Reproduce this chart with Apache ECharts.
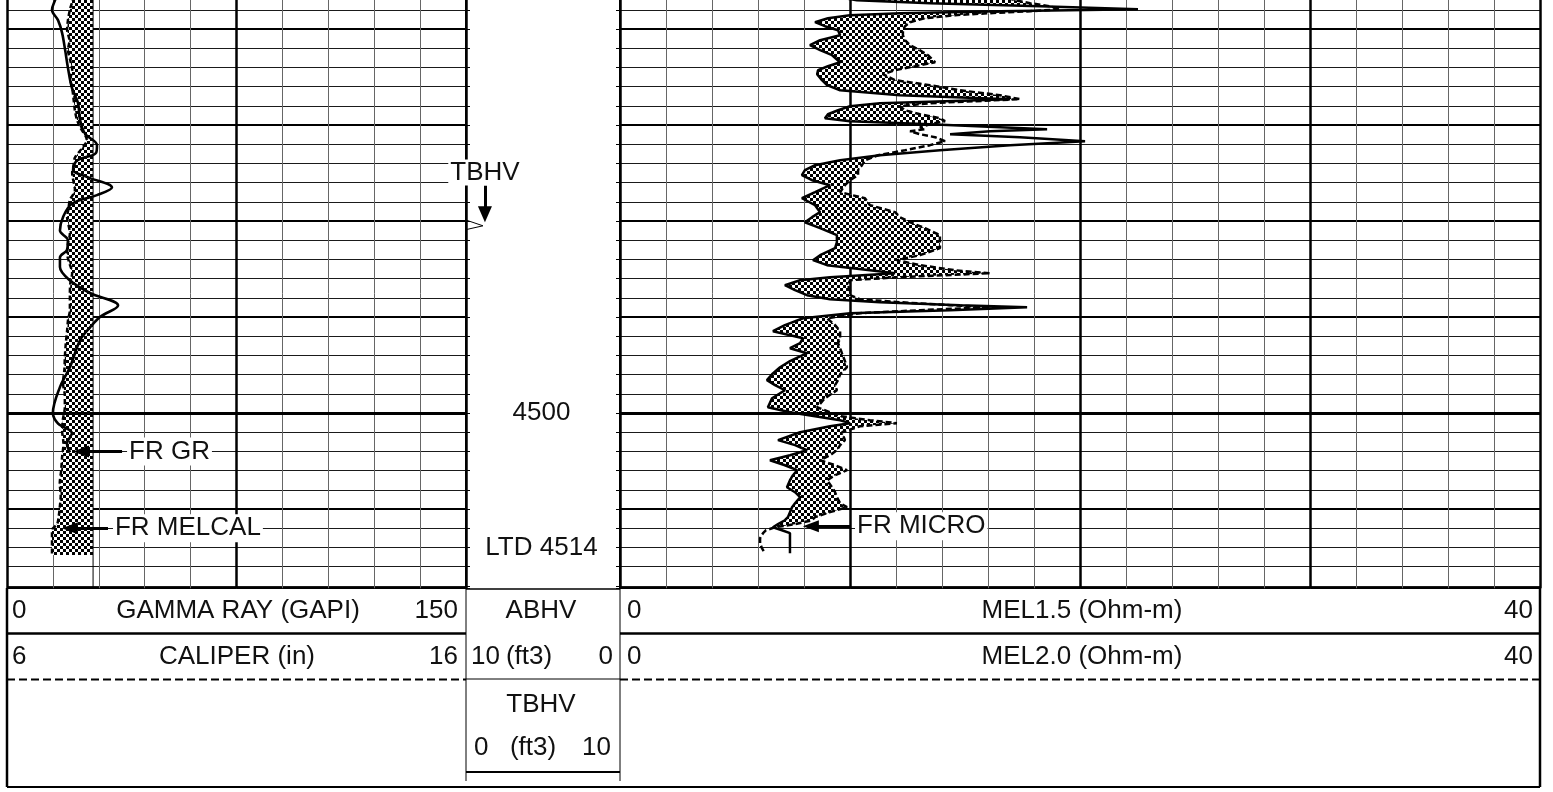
<!DOCTYPE html>
<html><head><meta charset="utf-8">
<script src="https://cdn.jsdelivr.net/npm/echarts@6/dist/echarts.min.js"></script>
<style>html,body{margin:0;padding:0;background:#fff;overflow:hidden}#c{width:1553px;height:792px}</style>
</head><body><div id="c"></div>
<script>
// ---------------- DATA ----------------
// Gamma ray (GAPI) vs depth (ft)
const grDepth = [4456.5,4457.0,4458.0,4459.1,4460.4,4462.2,4464.0,4466.1,4467.7,4469.5,
  4470.9,4472.1,4472.9,4473.7,4474.7,4475.4,4476.5,4477.3,4478.2,4479.6,
  4481.0,4482.0,4483.0,4483.8,4484.8,4486.2,4487.5,4488.8,4490.0,4491.1,
  4492.4,4495.2,4497.3,4500.0,4501.1,4502.1,4503.2,4504.1];
const grValue = [16.5,15.7,14.7,16.7,18.0,19.0,19.9,21.2,23.2,23.9,
  25.5,29.4,29.1,22.9,21.6,26.1,34.3,29.4,21.2,18.3,
  17.3,19.9,19.6,17.3,17.3,20.6,27.1,36.3,30.4,27.1,
  23.9,20.6,17.3,15.0,16.7,21.2,19.6,20.6];
// Caliper (in) vs depth
const calDepth = [4456.5,4457.0,4458.0,4459.0,4460.1,4461.2,4462.2,4463.3,4464.3,4465.2,
  4466.1,4467.3,4468.5,4469.4,4470.2,4471.6,4472.5,4473.4,4474.2,4475.0,
  4476.8,4477.8,4478.7,4479.6,4481.3,4482.3,4483.4,4484.4,4485.4,4486.5,
  4487.5,4489.3,4490.3,4491.4,4492.8,4494.2,4495.5,4496.9,4498.2,4499.4,
  4500.6,4501.8,4503.2,4504.6,4506.0,4507.3,4508.6,4509.8,4511.0,4511.6,
  4512.2,4514.8];
const calValue = [7.40,7.42,7.37,7.33,7.31,7.36,7.33,7.38,7.42,7.38,
  7.42,7.45,7.48,7.52,7.59,7.74,7.62,7.48,7.45,7.42,
  7.48,7.37,7.34,7.31,7.37,7.33,7.31,7.36,7.42,7.38,
  7.37,7.37,7.33,7.31,7.28,7.26,7.25,7.22,7.26,7.26,
  7.22,7.20,7.23,7.20,7.18,7.15,7.17,7.15,7.12,7.09,
  6.98,6.98];
// Bit size (in)
const bitDepth = [4456, 4518.25];
const bitValue = [7.875, 7.875];
// Micro-log (Ohm-m) vs depth
const melDepth = [4456.50,4457.00,4457.31,4457.63,4457.94,4458.15,4458.35,4458.56,4458.88,4459.29,
  4459.71,4460.13,4460.65,4461.17,4461.69,4462.21,4462.73,4463.46,4463.88,4464.29,
  4464.71,4465.33,4465.85,4466.38,4466.90,4467.31,4467.73,4468.04,4468.46,4468.88,
  4469.29,4469.60,4469.92,4470.23,4470.44,4470.65,4470.96,4471.27,4471.69,4472.10,
  4472.63,4473.15,4473.67,4474.19,4474.71,4475.23,4475.75,4476.27,4477.00,4477.63,
  4478.35,4479.08,4479.60,4480.13,4480.75,4481.48,4482.21,4482.83,4483.56,4484.08,
  4484.60,4485.13,4485.44,4485.85,4486.17,4486.69,4487.21,4487.73,4488.15,4488.46,
  4488.77,4488.98,4489.29,4489.60,4490.13,4490.85,4491.48,4492.21,4492.73,4493.25,
  4493.77,4494.60,4495.23,4495.96,4496.58,4497.10,4497.63,4498.46,4499.40,4499.92,
  4500.33,4500.75,4501.06,4501.38,4502.00,4502.83,4503.35,4503.88,4504.40,4504.92,
  4505.44,4505.96,4506.48,4507.00,4507.73,4508.25,4508.77,4509.40,4509.81,4510.33,
  4510.85,4511.17,4511.58,4511.90,4512.21,4512.52,4513.04,4513.56,4514.08,4514.60];
const mel15 = [9.00,10.30,13.48,18.26,22.52,16.52,12.17,10.00,9.04,8.48,
  8.91,9.48,9.57,8.70,8.26,8.70,9.22,9.57,9.04,8.61,
  8.57,8.78,9.00,9.57,12.17,16.96,11.30,10.00,9.48,9.04,
  8.91,10.00,13.48,16.52,18.57,16.09,14.35,17.39,20.22,16.96,
  13.91,11.30,9.57,8.48,8.04,7.91,8.35,9.13,8.48,7.91,
  8.48,8.70,8.35,8.04,8.70,9.43,9.43,9.35,8.70,8.39,
  9.00,10.87,11.96,9.13,7.83,7.17,7.61,8.13,9.13,11.30,
  14.78,17.70,14.35,10.00,7.96,7.17,6.65,7.96,7.83,7.39,
  8.13,7.39,6.96,6.61,6.39,6.74,7.17,6.61,6.43,7.39,
  8.48,9.57,10.00,9.13,7.83,6.87,7.61,8.13,7.39,6.52,
  7.17,7.70,7.52,7.39,7.26,7.61,7.83,7.61,7.48,7.39,
  7.30,7.17,6.87,6.65,7.04,7.39,7.39,7.39,7.39,7.39];
const mel20 = [16.50,17.17,17.83,18.70,19.13,17.83,16.09,14.57,13.26,12.61,
  12.39,12.30,12.30,12.39,12.61,13.04,13.39,13.70,12.83,11.96,
  11.43,11.96,13.48,14.78,16.52,17.39,13.48,12.17,12.39,13.04,
  13.91,14.13,13.48,13.04,13.26,12.61,13.04,13.70,14.13,13.48,
  12.39,11.22,10.65,10.52,10.35,10.35,10.00,9.78,9.57,10.65,
  10.87,11.96,12.17,12.61,13.26,13.91,13.91,13.91,13.04,12.04,
  13.04,14.57,16.09,12.17,10.00,9.91,10.00,10.00,10.43,12.17,
  14.35,16.09,13.04,10.43,9.00,9.35,9.57,9.57,9.48,9.57,
  9.65,9.78,9.87,9.57,9.48,9.35,9.43,8.91,8.57,9.13,
  9.57,10.87,12.04,10.43,9.65,9.78,9.57,9.43,9.13,8.70,
  9.35,9.87,9.35,9.00,9.22,9.35,9.43,9.57,9.87,9.13,
  8.48,8.35,7.61,6.74,6.35,6.22,6.09,6.09,6.17,6.30];
// TBHV (ft3)
const tbhvDepth = [4479.9, 4480.5, 4480.9];
const tbhvValue = [0, 1.1, 0];
// Depth labels
const depthLabelText = ['4500', 'LTD 4514'];
const depthLabelDepth = [4500, 4514];
// Header scale texts
const grScale = ['0', 'GAMMA RAY (GAPI)', '150'];
const calScale = ['6', 'CALIPER (in)', '16'];
const mel15Scale = ['0', 'MEL1.5 (Ohm-m)', '40'];
const mel20Scale = ['0', 'MEL2.0 (Ohm-m)', '40'];
const abhvScale = ['ABHV', '10', '(ft3)', '0'];
const tbhvScale = ['TBHV', '0', '(ft3)', '10'];

// ---------------- LAYOUT ----------------
const FONT = 'Liberation Sans, Arial, Helvetica, sans-serif';
const D_MIN = 4456, D_MAX = 4518.25, D_MAJ_MIN = 4450, PXFT = 9.6, Y4500 = 413;
const topMinor = Y4500 - (4500 - D_MIN) * PXFT;
const hMinor = (D_MAX - D_MIN) * PXFT;
const topMajor = Y4500 - (4500 - D_MAJ_MIN) * PXFT;
const hMajor = (D_MAX - D_MAJ_MIN) * PXFT;

const pairs = (xs, ys) => xs.map((x, i) => [x, ys[i]]);

const pat = document.createElement('canvas');
pat.width = 6; pat.height = 6;
const pc = pat.getContext('2d');
pc.fillStyle = '#fff'; pc.fillRect(0, 0, 6, 6);
pc.fillStyle = '#000'; pc.fillRect(0, 0, 3, 3); pc.fillRect(3, 3, 3, 3);
const checker = { image: pat, repeat: 'repeat' };

function gridAt(left, top, width, height) {
  return { left, top, width, height, containLabel: false, outerBoundsMode: 'none' };
}
function xAx(grid, min, max, interval, split, pos) {
  return { type: 'value', gridIndex: grid, min, max, interval, position: pos || 'bottom',
    axisLine: { show: false }, axisTick: { show: false }, axisLabel: { show: false },
    splitLine: split ? { show: true, lineStyle: split } : { show: false } };
}
function yAx(grid, min, interval, split, extra) {
  return Object.assign({ type: 'value', gridIndex: grid, min, max: D_MAX, interval, inverse: true,
    axisLine: { show: false, onZero: false }, axisTick: { show: false }, axisLabel: { show: false },
    splitLine: split ? { show: true, lineStyle: split } : { show: false } }, extra || {});
}
const edgeAxis = pos => ({ position: pos,
  axisLine: { show: true, onZero: false, lineStyle: { color: '#000', width: 2 } },
  axisTick: { show: true, inside: true, length: 4, lineStyle: { color: '#000', width: 1 } } });

const labelStyle = { show: true, position: 'end', distance: 5, fontSize: 26, color: '#111',
  fontFamily: FONT, backgroundColor: '#fff', padding: [1, 2] };
const arrowLine = { color: '#000', width: 3, type: 'solid' };

// header graphics
const hdr = [];
function txt(x, y, text, align) {
  hdr.push({ type: 'text', x, y, silent: true, z: 10,
    style: { text, fill: '#111', fontSize: 26, fontFamily: FONT, align, verticalAlign: 'middle' } });
}
function ln(x1, y1, x2, y2, w, dash) {
  hdr.push({ type: 'line', silent: true, z: 10, shape: { x1, y1, x2, y2 },
    style: { stroke: '#000', lineWidth: w, lineDash: dash || null } });
}
txt(12, 611, grScale[0], 'left'); txt(238, 611, grScale[1], 'center'); txt(458, 611, grScale[2], 'right');
txt(541, 611, abhvScale[0], 'center');
txt(627, 611, mel15Scale[0], 'left'); txt(1082, 611, mel15Scale[1], 'center'); txt(1533, 611, mel15Scale[2], 'right');
txt(12, 657, calScale[0], 'left'); txt(237, 657, calScale[1], 'center'); txt(458, 657, calScale[2], 'right');
txt(471, 657, abhvScale[1], 'left'); txt(529, 657, abhvScale[2], 'center'); txt(613, 657, abhvScale[3], 'right');
txt(627, 657, mel20Scale[0], 'left'); txt(1082, 657, mel20Scale[1], 'center'); txt(1533, 657, mel20Scale[2], 'right');
txt(541, 705, tbhvScale[0], 'center');
txt(474, 748, tbhvScale[1], 'left'); txt(533, 748, tbhvScale[2], 'center'); txt(611, 748, tbhvScale[3], 'right');
ln(466, 589, 620, 589, 1.5);
ln(7, 633.5, 466, 633.5, 2.5); ln(620, 633.5, 1540, 633.5, 2.5);
ln(7, 679.5, 466, 679.5, 2, [8, 4]); ln(620, 679.5, 1540, 679.5, 2, [8, 4]);
ln(466, 679, 620, 679, 1);
ln(466, 772, 620, 772, 2);
ln(466, 588, 466, 781, 1); ln(620, 588, 620, 781, 1);
ln(7, 588, 7, 787, 2.5); ln(7, 787, 1540, 787, 2); ln(1540, 588, 1540, 787, 2.5);

const option = {
  animation: false,
  backgroundColor: '#fff',
  grid: [
    gridAt(7, topMinor, 459, hMinor),
    gridAt(7, topMajor, 459, hMajor),
    gridAt(466, topMinor, 154, hMinor),
    gridAt(620, topMinor, 920, hMinor),
    gridAt(620, topMajor, 920, hMajor)
  ],
  xAxis: [
    xAx(0, 0, 150, 15, { color: '#666', width: 1 }),
    xAx(0, 6, 16, 1, null, 'top'),
    xAx(1, 0, 150, 75, { color: '#000', width: 2.5 }),
    xAx(2, 0, 10, 1, null),
    xAx(3, 0, 40, 2, { color: '#666', width: 1 }),
    xAx(4, 0, 40, 10, { color: '#000', width: 2.5 })
  ],
  yAxis: [
    yAx(0, D_MIN, 2, { color: '#1a1a1a', width: 1 }),
    yAx(1, D_MAJ_MIN, 10, { color: '#000', width: 2 }),
    yAx(2, D_MIN, 2, null, edgeAxis('left')),
    yAx(2, D_MIN, 2, null, edgeAxis('right')),
    yAx(3, D_MIN, 2, { color: '#1a1a1a', width: 1 }),
    yAx(4, D_MAJ_MIN, 10, { color: '#000', width: 2 })
  ],
  graphic: { elements: hdr },
  series: [
    { type: 'custom', name: 'Caliper fill', xAxisIndex: 1, yAxisIndex: 0, z: 2, silent: true,
      data: [[7, 4480]],
      renderItem: (params, api) => {
        const pts = calDepth.map((d, i) => api.coord([calValue[i], d]));
        pts.push(api.coord([bitValue[1], calDepth[calDepth.length - 1]]));
        pts.push(api.coord([bitValue[0], calDepth[0]]));
        return { type: 'polygon', shape: { points: pts }, style: { fill: checker, stroke: null } };
      } },
    { type: 'line', name: 'Bit size', xAxisIndex: 1, yAxisIndex: 0, z: 3, silent: true,
      data: pairs(bitValue, bitDepth), symbol: 'none', lineStyle: { color: '#000', width: 1 } },
    { type: 'line', name: 'CALIPER', xAxisIndex: 1, yAxisIndex: 0, z: 4, silent: true,
      data: pairs(calValue, calDepth), symbol: 'none', smooth: 0.3,
      lineStyle: { color: '#000', width: 2.5, type: [5, 3] },
      markLine: { silent: true, symbol: 'none', label: { show: false },
        data: [[
          { coord: [7.37, 4512.0], symbol: 'triangle', symbolSize: [12, 16], lineStyle: arrowLine,
            label: Object.assign({}, labelStyle, { formatter: 'FR MELCAL' }) },
          { coord: [8.20, 4512.0], symbol: 'none' }
        ]] } },
    { type: 'line', name: 'GAMMA RAY', xAxisIndex: 0, yAxisIndex: 0, z: 4, silent: true,
      data: pairs(grValue, grDepth), symbol: 'none', smooth: 0.35,
      lineStyle: { color: '#000', width: 2.6 },
      markLine: { silent: true, symbol: 'none', label: { show: false },
        data: [
          [
            { coord: [24.2, 4504.0], symbol: 'triangle', symbolSize: [12, 16], lineStyle: arrowLine,
              label: Object.assign({}, labelStyle, { formatter: 'FR GR' }) },
            { coord: [37.6, 4504.0], symbol: 'none' }
          ],
          { yAxis: 4500, lineStyle: { color: '#000', width: 3, type: 'solid' }, label: { show: false } }
        ] } },
    { type: 'custom', name: 'MEL fill', xAxisIndex: 4, yAxisIndex: 4, z: 2, silent: true,
      data: [[10, 4480]],
      renderItem: (params, api) => {
        const pts = melDepth.map((d, i) => api.coord([mel15[i], d]));
        for (let i = melDepth.length - 1; i >= 0; i--) {
          pts.push(api.coord([Math.max(mel15[i], mel20[i]), melDepth[i]]));
        }
        return { type: 'polygon', shape: { points: pts }, style: { fill: checker, stroke: null } };
      } },
    { type: 'line', name: 'MEL2.0', xAxisIndex: 4, yAxisIndex: 4, z: 4, silent: true,
      data: pairs(mel20, melDepth), symbol: 'none',
      lineStyle: { color: '#000', width: 2.5, type: [6, 3] } },
    { type: 'line', name: 'MEL1.5', xAxisIndex: 4, yAxisIndex: 4, z: 5, silent: true,
      data: pairs(mel15, melDepth), symbol: 'none',
      lineStyle: { color: '#000', width: 2.5 },
      markLine: { silent: true, symbol: 'none', label: { show: false },
        data: [
          [
            { coord: [8.30, 4511.8], symbol: 'triangle', symbolSize: [12, 16], lineStyle: arrowLine,
              label: Object.assign({}, labelStyle, { formatter: 'FR MICRO' }) },
            { coord: [10.0, 4511.8], symbol: 'none' }
          ],
          { yAxis: 4500, lineStyle: { color: '#000', width: 3, type: 'solid' }, label: { show: false } }
        ] } },
    { type: 'line', name: 'TBHV', xAxisIndex: 3, yAxisIndex: 2, z: 4, silent: true,
      data: pairs(tbhvValue, tbhvDepth), symbol: 'none',
      lineStyle: { color: '#000', width: 1 },
      markLine: { silent: true, symbol: 'none', label: { show: false },
        data: [[
          { coord: [1.23, 4476.3], symbol: 'none', lineStyle: arrowLine,
            label: Object.assign({}, labelStyle, { formatter: 'TBHV', position: 'start', distance: 0, padding: [0, 2] }) },
          { coord: [1.23, 4479.3], symbol: 'triangle', symbolSize: [14, 16] }
        ]] } },
    { type: 'scatter', name: 'Depth', xAxisIndex: 3, yAxisIndex: 2, z: 6, silent: true,
      symbolSize: 1, itemStyle: { color: 'rgba(0,0,0,0)', opacity: 1 },
      data: depthLabelDepth.map((d, i) => ({ value: [4.9, d], name: depthLabelText[i] })),
      label: { show: true, position: 'inside', formatter: '{b}', fontSize: 26, color: '#111',
        opacity: 1, fontFamily: FONT } }
  ]
};

const chart = echarts.init(document.getElementById('c'), null, { renderer: 'canvas' });
chart.setOption(option);
</script>
</body></html>
